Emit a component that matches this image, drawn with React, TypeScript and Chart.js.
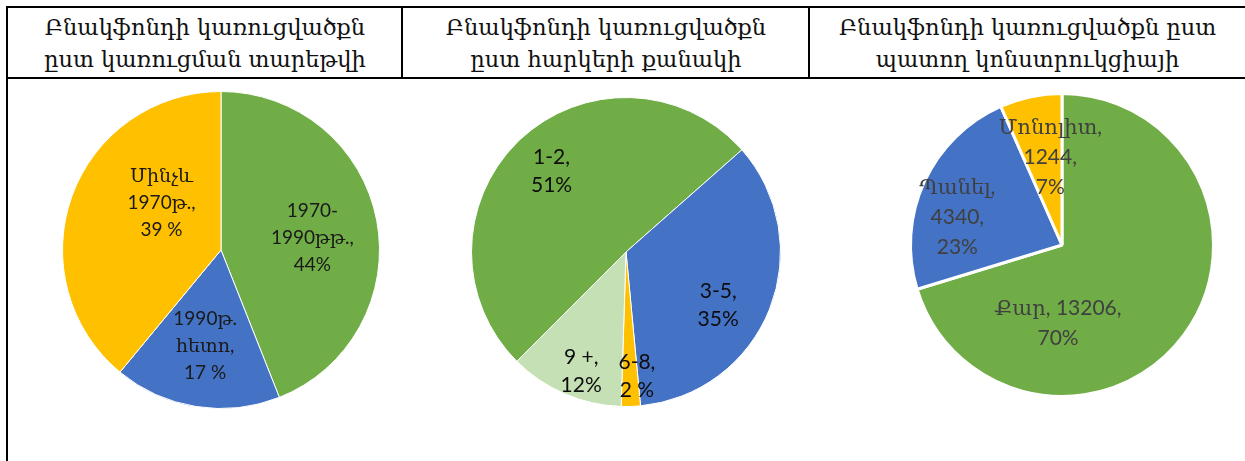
import React, { useEffect, useRef } from "react";
import { Chart, registerables } from "chart.js";

Chart.register(...registerables);

// ---------- data ----------
const headerTitles = [
  ["Բնակֆոնդի կառուցվածքն", "ըստ կառուցման տարեթվի"],
  ["Բնակֆոնդի կառուցվածքն", "ըստ հարկերի քանակի"],
  ["Բնակֆոնդի կառուցվածքն ըստ", "պատող կոնստրուկցիայի"],
];

const yearCategories = ["1970-\n1990թթ.,", "1990թ.\nհետո,", "Մինչև\n1970թ.,"];
const yearValues = [44, 17, 39];
const yearPercentText = ["44%", "17 %", "39 %"];

const floorCategories = ["1-2,", "3-5,", "6-8,", "9 +,"];
const floorValues = [51, 35, 2, 12];
const floorPercentText = ["51%", "35%", "2 %", "12%"];

const wallCategories = ["Քար,", "Պանել,", "Մոնոլիտ,"];
const wallValues = [13206, 4340, 1244];

// ---------- styles ----------
const GREEN = "#70AD47";
const BLUE = "#4472C4";
const YELLOW = "#FFC000";
const LIGHTGREEN = "#C5E0B4";

const wallSum = wallValues.reduce((a, b) => a + b, 0);
const wallLabels = wallCategories.map((c, i) => {
  const pct = Math.round((wallValues[i] / wallSum) * 100) + "%";
  if (i === 0) return [`${c} ${wallValues[i]},`, pct];
  return [c, `${wallValues[i]},`, pct];
});
const yearLabels = yearCategories.map((c, i) => [...c.split("\n"), yearPercentText[i]]);
const floorLabels = floorCategories.map((c, i) => [c, floorPercentText[i]]);

const labelPlugin = {
  id: "sliceLabels",
  afterDatasetsDraw(chart: any) {
    const o = chart.options.plugins.sliceLabels;
    if (!o) return;
    const ctx = chart.ctx;
    const meta = chart.getDatasetMeta(0);
    ctx.save();
    ctx.font = o.font;
    ctx.fillStyle = o.color;
    ctx.textAlign = "center";
    ctx.textBaseline = "middle";
    meta.data.forEach((arc: any, i: number) => {
      const mid = (arc.startAngle + arc.endAngle) / 2;
      const d = arc.outerRadius * o.frac;
      const off = o.offsets[i] || [0, 0];
      const cx = arc.x + Math.cos(mid) * d + off[0];
      const cy = arc.y + Math.sin(mid) * d + off[1];
      const lines: string[] = o.lines[i];
      const h = o.lineHeight;
      lines.forEach((ln, k) => {
        ctx.fillText(ln, cx, cy + (k - (lines.length - 1) / 2) * h);
      });
    });
    ctx.restore();
  },
};

type PieProps = {
  values: number[];
  colors: string[];
  rotation: number;
  radius: number;
  borderWidth: number;
  size: number;
  left: number;
  top: number;
  lines: string[][];
  offsets: number[][];
  font: string;
  color: string;
  lineHeight: number;
};

function Pie(p: PieProps) {
  const ref = useRef<HTMLCanvasElement>(null);
  useEffect(() => {
    const chart = new Chart(ref.current as HTMLCanvasElement, {
      type: "pie",
      data: {
        labels: p.lines.map((l) => l.join(" ")),
        datasets: [
          {
            data: p.values,
            backgroundColor: p.colors,
            borderColor: "#ffffff",
            borderWidth: p.borderWidth,
            hoverOffset: 0,
            offset: 0,
          },
        ],
      },
      options: {
        responsive: false,
        animation: false,
        rotation: p.rotation,
        radius: p.radius,
        layout: { padding: 0 },
        events: [],
        plugins: {
          legend: { display: false },
          tooltip: { enabled: false },
          sliceLabels: {
            lines: p.lines,
            offsets: p.offsets,
            font: p.font,
            color: p.color,
            lineHeight: p.lineHeight,
            frac: 0.6,
          },
        } as any,
      },
      plugins: [labelPlugin],
    });
    return () => chart.destroy();
  }, []);
  return (
    <canvas
      ref={ref}
      width={p.size}
      height={p.size}
      style={{ position: "absolute", left: p.left, top: p.top, width: p.size, height: p.size }}
    />
  );
}

const line = (l: number, t: number, w: number, h: number) => (
  <div style={{ position: "absolute", left: l, top: t, width: w, height: h, background: "#000" }} />
);

export default function App() {
  const colLefts = [8, 403, 810];
  const colRights = [402, 809, 1245];
  return (
    <div style={{ position: "absolute", left: 0, top: 0, width: 1245, height: 461, background: "#fff", overflow: "hidden" }}>
      {line(6, 6, 1239, 2)}
      {line(6, 6, 2, 455)}
      {line(6, 77, 1239, 2)}
      {line(401, 6, 2, 73)}
      {line(808, 6, 2, 73)}
      {headerTitles.map((t, i) => (
        <div
          key={i}
          style={{
            position: "absolute",
            left: colLefts[i],
            top: 11,
            width: colRights[i] - colLefts[i],
            textAlign: "center",
            fontFamily: "'DejaVu Serif', serif",
            fontSize: 22.5,
            lineHeight: "32px",
            color: "#111",
            whiteSpace: "nowrap",
          }}
        >
          {t.map((s, k) => (
            <div key={k}>{s}</div>
          ))}
        </div>
      ))}
      <Pie
        values={yearValues}
        colors={[GREEN, BLUE, YELLOW]}
        rotation={0}
        radius={158.5}
        borderWidth={1}
        size={340}
        left={51}
        top={80}
        lines={yearLabels}
        offsets={[[-2, 6], [-1, 2], [30, -15]]}
        font="19px Lato, 'DejaVu Serif'"
        color="#1a1a1a"
        lineHeight={27}
      />
      <Pie
        values={floorValues}
        colors={[GREEN, BLUE, YELLOW, LIGHTGREEN]}
        rotation={-135}
        radius={154.5}
        borderWidth={1}
        size={340}
        left={456}
        top={82}
        lines={floorLabels}
        offsets={[[-11, -13], [6, 19], [8, 32], [-8, 34]]}
        font="21px Lato, 'DejaVu Sans'"
        color="#0d0d0d"
        lineHeight={28}
      />
      <Pie
        values={wallValues}
        colors={[GREEN, BLUE, YELLOW]}
        rotation={0}
        radius={151.5}
        borderWidth={3}
        size={340}
        left={892}
        top={75}
        lines={wallLabels}
        offsets={[[-77, 24], [-22, 10], [7, 1]]}
        font="21px Lato, 'DejaVu Serif'"
        color="#404040"
        lineHeight={30}
      />
    </div>
  );
}
